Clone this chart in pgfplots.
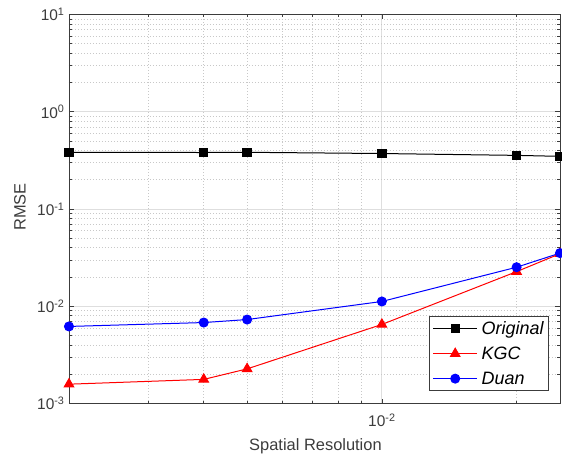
\documentclass[border=0pt]{standalone}
\usepackage{fontspec}
\setmainfont{Liberation Sans}
\usepackage{pgfplots}
\pgfplotsset{compat=1.18}

\definecolor{axgray}{RGB}{60,60,60}
\definecolor{gridgray}{RGB}{222,222,222}
\definecolor{mingray}{RGB}{200,200,200}

\begin{document}
\begin{tikzpicture}
\useasboundingbox (0bp,0bp) rectangle (562bp,460bp);
\begin{axis}[
  at={(69bp,56.5bp)}, anchor=south west,
  scale only axis, width=491bp, height=389bp,
  xmode=log, ymode=log,
  xmin=0.002, xmax=0.025, ymin=1e-3, ymax=10,
  xtick={0.01}, xticklabels={10\textsuperscript{-2}},
  minor xtick={0.003,0.004,0.005,0.006,0.007,0.008,0.009,0.02},
  ytick={1e-3,1e-2,1e-1,1,10},
  yticklabels={10\textsuperscript{-3},10\textsuperscript{-2},10\textsuperscript{-1},10\textsuperscript{0},10\textsuperscript{1}},
  minor ytick={0.002,0.003,0.004,0.005,0.006,0.007,0.008,0.009,
               0.02,0.03,0.04,0.05,0.06,0.07,0.08,0.09,
               0.2,0.3,0.4,0.5,0.6,0.7,0.8,0.9,
               2,3,4,5,6,7,8,9},
  grid=both,
  major grid style={gridgray, line width=0.9bp},
  minor grid style={mingray, line width=0.6bp, dash pattern=on 0.8bp off 2.2bp},
  tick align=inside, xtick pos=both, ytick pos=both,
  major tick length=5bp, minor tick length=3bp,
  axis line style={axgray, line width=0.9bp},
  tick style={axgray, line width=0.6bp},
  ticklabel style={axgray, font=\fontsize{15.5}{15.5}\selectfont},
  yticklabel style={xshift=-1bp},
  xticklabel style={yshift=-7bp},
  xlabel={Spatial Resolution}, ylabel={RMSE},
  label style={axgray, font=\fontsize{16.5}{16.5}\selectfont},
  xlabel style={at={(axis description cs:0.502,-0.109)}, anchor=center},
  ylabel style={at={(axis description cs:-0.0998,0.505)}, anchor=center, rotate=0},
  legend style={at={(axis description cs:0.9776,0.032)}, anchor=south east,
    draw=axgray, line width=1bp, fill=white, inner xsep=3bp, inner ysep=3bp,
    font=\fontsize{18}{21}\selectfont\itshape, row sep=7bp,
    /tikz/every odd column/.append style={column sep=2bp}},
  legend cell align=left,
  legend image code/.code={
    \draw[mark repeat=2,mark phase=2,#1]
      plot coordinates {(0bp,0bp) (22bp,0bp) (44bp,0bp)};},
]
\addplot[black, line width=1bp, mark=square*, mark size=4.2bp] coordinates {
  (0.002,0.383) (0.004,0.381) (0.005,0.383) (0.01,0.372) (0.02,0.356) (0.025,0.348)};
\addlegendentry{Original}
\addplot[red, line width=1bp, mark=triangle*, mark size=5.5bp] coordinates {
  (0.002,0.00158) (0.004,0.00177) (0.005,0.00227) (0.01,0.0065) (0.02,0.0227) (0.025,0.0347)};
\addlegendentry{KGC}
\addplot[blue, line width=1bp, mark=*, mark size=4.5bp] coordinates {
  (0.002,0.0062) (0.004,0.0068) (0.005,0.0073) (0.01,0.0112) (0.02,0.0252) (0.025,0.0352)};
\addlegendentry{Duan}
\end{axis}
\end{tikzpicture}
\end{document}
